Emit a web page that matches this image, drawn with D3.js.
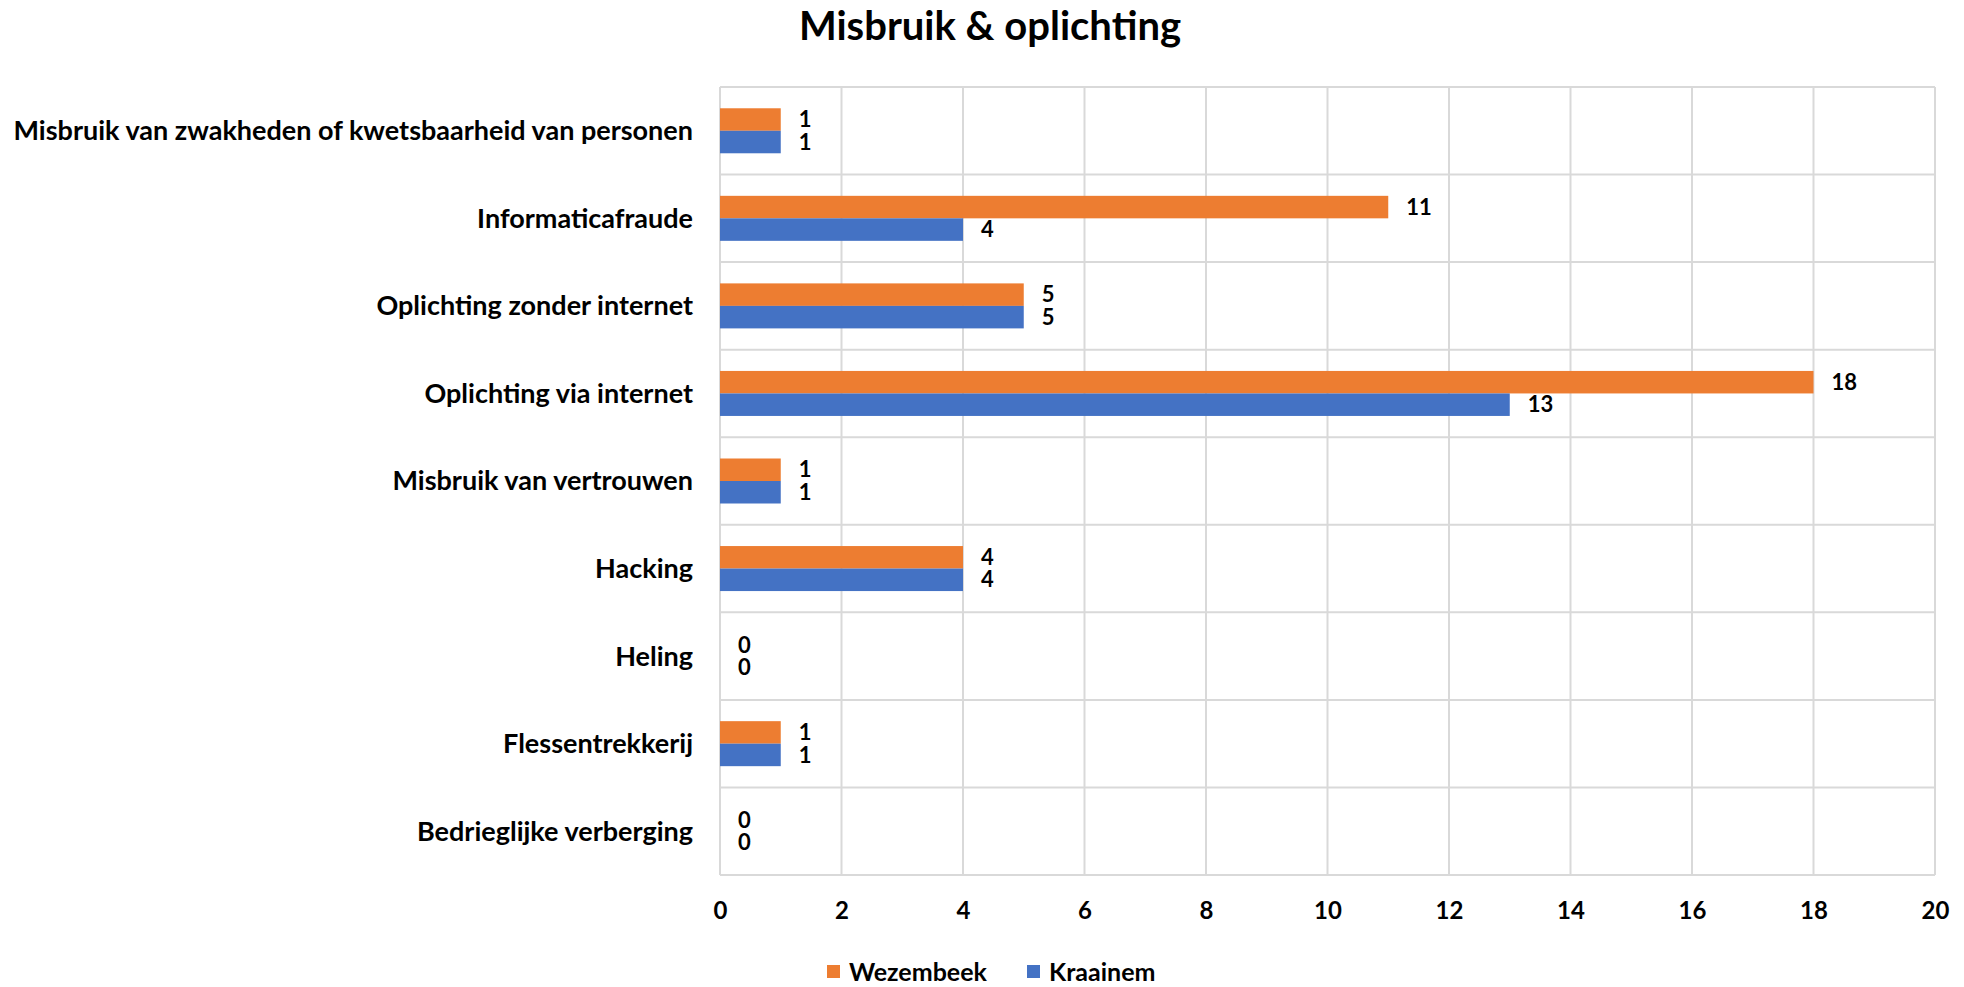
<!DOCTYPE html>
<html>
<head>
<meta charset="utf-8">
<script src="https://cdn.jsdelivr.net/npm/d3@7"></script>
<style>
  body { margin: 0; background: #fff; }
  text { font-family: Lato, "Open Sans", sans-serif; font-weight: bold; fill: #000; }
</style>
</head>
<body>
<div id="chart"></div>
<script>
const categories = [
  "Misbruik van zwakheden of kwetsbaarheid van personen",
  "Informaticafraude",
  "Oplichting zonder internet",
  "Oplichting via internet",
  "Misbruik van vertrouwen",
  "Hacking",
  "Heling",
  "Flessentrekkerij",
  "Bedrieglijke verberging"
]
const wezembeek = [1, 11, 5, 18, 1, 4, 0, 1, 0]
const kraainem = [1, 4, 5, 13, 1, 4, 0, 1, 0]
const seriesNames = ["Wezembeek", "Kraainem"]
const seriesColors = ["#ED7D31", "#4472C4"]
const xTicks = [0, 2, 4, 6, 8, 10, 12, 14, 16, 18, 20]

const W = 1964, H = 987
const MARGIN = { TOP: 87, BOTTOM: 112, LEFT: 720, RIGHT: 29 }
const WIDTH = W - MARGIN.LEFT - MARGIN.RIGHT
const HEIGHT = H - MARGIN.TOP - MARGIN.BOTTOM

const svg = d3.select("#chart").append("svg")
  .attr("width", W).attr("height", H)

svg.append("text")
  .attr("x", 990).attr("y", 40)
  .attr("text-anchor", "middle")
  .style("font-size", "40px")
  .text("Misbruik & oplichting")

const g = svg.append("g")
  .attr("transform", `translate(${MARGIN.LEFT}, ${MARGIN.TOP})`)

// scales
const x = d3.scaleLinear().domain([0, 20]).range([0, WIDTH])
const y = d3.scaleBand().domain(categories).range([0, HEIGHT])
  .paddingInner(0.486).paddingOuter(0.243)
const ySub = d3.scaleBand().domain(seriesNames).range([0, y.bandwidth()])

// grid: vertical lines at ticks, horizontal lines at row boundaries
const step = y.step()
g.append("g").selectAll("line.v").data(xTicks).join("line")
  .attr("x1", d => x(d)).attr("x2", d => x(d))
  .attr("y1", 0).attr("y2", HEIGHT)
  .attr("stroke", "#d9d9d9").attr("stroke-width", 2)
g.append("g").selectAll("line.h").data(d3.range(categories.length + 1)).join("line")
  .attr("x1", 0).attr("x2", WIDTH)
  .attr("y1", d => d * step).attr("y2", d => d * step)
  .attr("stroke", "#d9d9d9").attr("stroke-width", 2)

// bars
const rows = categories.map((c, i) => ({ cat: c, vals: [wezembeek[i], kraainem[i]] }))
const grp = g.selectAll("g.row").data(rows).join("g")
  .attr("transform", d => `translate(0, ${y(d.cat)})`)

grp.selectAll("rect").data(d => d.vals.map((v, j) => ({ v, s: seriesNames[j], c: seriesColors[j] })))
  .join("rect")
  .attr("x", 0)
  .attr("y", d => ySub(d.s))
  .attr("width", d => x(d.v))
  .attr("height", ySub.bandwidth())
  .attr("fill", d => d.c)

grp.selectAll("text").data(d => d.vals.map((v, j) => ({ v, s: seriesNames[j] })))
  .join("text")
  .attr("x", d => x(d.v) + 18)
  .attr("y", d => ySub(d.s) + ySub.bandwidth() / 2)
  .attr("dy", "0.35em")
  .style("font-size", "22px")
  .text(d => d.v)

// category axis labels
g.append("g").selectAll("text").data(categories).join("text")
  .attr("x", -27)
  .attr("y", d => y(d) + y.bandwidth() / 2)
  .attr("dy", "0.35em")
  .attr("text-anchor", "end")
  .style("font-size", "27px")
  .text(d => d)

// x axis
const xAxis = g.append("g")
  .attr("transform", `translate(0, ${HEIGHT})`)
  .call(d3.axisBottom(x).tickValues(xTicks).tickSize(0).tickPadding(27))
xAxis.select(".domain").remove()
xAxis.selectAll("text").style("font-size", "24px").attr("font-family", null)

// legend
const legend = svg.append("g").attr("transform", "translate(827, 972)")
const items = [{ n: seriesNames[0], c: seriesColors[0], x: 0 }, { n: seriesNames[1], c: seriesColors[1], x: 200 }]
items.forEach(it => {
  legend.append("rect").attr("x", it.x).attr("y", -7).attr("width", 13).attr("height", 13).attr("fill", it.c)
  legend.append("text").attr("x", it.x + 22).attr("y", 0).attr("dy", "0.35em")
    .style("font-size", "25px").text(it.n)
})
</script>
</body>
</html>
